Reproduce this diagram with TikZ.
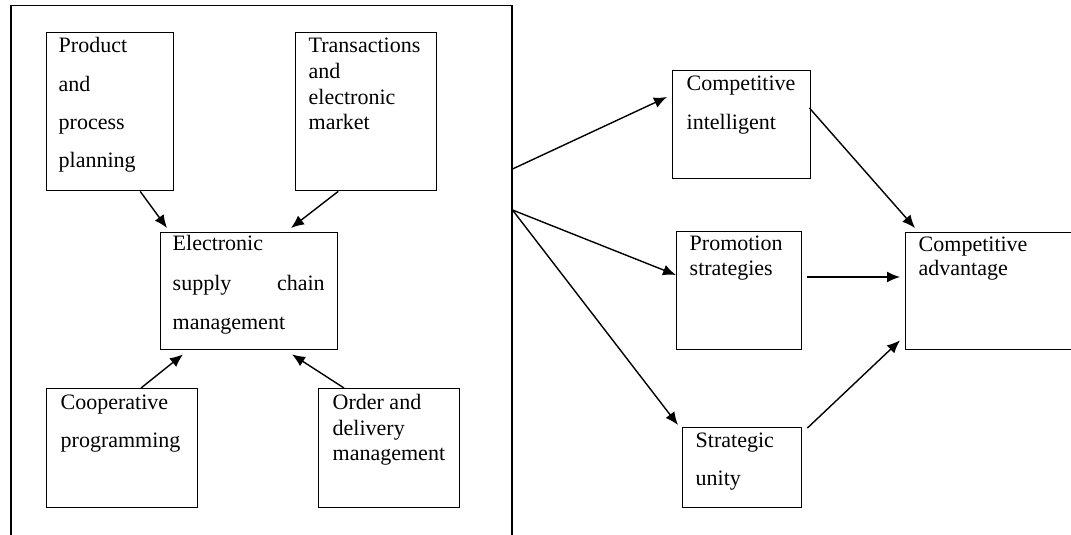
\documentclass[tikz,border=0pt]{standalone}
\usepackage{fontspec}
\setmainfont{Liberation Serif}
\usetikzlibrary{arrows.meta}
% #1 width, #2 height, #3 left pad, #4 first baseline, #5 line spacing, #6 text
\newcommand{\bxt}[6]{\parbox[c][#2][t]{#1}{\fontsize{22pt}{#5}\selectfont\leftskip=#3\relax\rightskip=0pt plus 1fil\relax\hyphenpenalty=10000\relax\vspace*{\dimexpr#4-16pt\relax}\rule{0pt}{16pt}#6}}
\tikzset{
  box/.style={draw, line width=1.4pt, inner sep=0pt, anchor=north west},
  arr/.style={-{Latex[length=13pt,width=11pt]}, line width=1.4pt}
}
\begin{document}
\begin{tikzpicture}[x=1pt, y=-1pt]
\useasboundingbox (0,0) rectangle (1071,535);
\node[draw, line width=1.5pt, inner sep=0pt, anchor=north west, minimum width=501pt, minimum height=545pt] (outer) at (10,5) {};
% left group
\node[box] (pp) at (46,32) {\bxt{127pt}{158pt}{12pt}{20pt}{38.3pt}{Product\\and\\process\\planning}};
\node[box] (tr) at (295,32) {\bxt{141pt}{158pt}{13pt}{20pt}{25.7pt}{Transactions\\and\\electronic\\market}};
\node[box] (ecsm) at (160,232) {\bxt{177pt}{117pt}{12pt}{18pt}{39.5pt}{Electronic\\\makebox[152pt][s]{supply\hfill chain}\\management}};
\node[box] (coop) at (46,388) {\bxt{151pt}{119pt}{14pt}{21pt}{38pt}{Cooperative\\programming}};
\node[box] (ord) at (318,388) {\bxt{141pt}{119pt}{14pt}{21pt}{25.5pt}{Order and\\delivery\\management}};
% right group
\node[box] (ci) at (672,70) {\bxt{138pt}{108pt}{14pt}{20pt}{39pt}{Competitive\\intelligent}};
\node[box] (ps) at (676,231) {\bxt{125pt}{118pt}{13pt}{19pt}{25pt}{Promotion\\strategies}};
\node[box] (su) at (682,427) {\bxt{119pt}{80pt}{13pt}{20pt}{38pt}{Strategic\\unity}};
\node[box] (ca) at (905,232) {\bxt{180pt}{117pt}{13pt}{19pt}{24pt}{Competitive\\advantage}};
% arrows inside
\draw[arr] ([xshift=30pt]pp.south) -- ([xshift=7pt,yshift=4pt]ecsm.north west);
\draw[arr] ([xshift=-28pt]tr.south) -- ([xshift=131pt,yshift=4pt]ecsm.north west);
\draw[arr] ([xshift=95pt]coop.north west) -- ([xshift=23pt,yshift=-4pt]ecsm.south west);
\draw[arr] ([xshift=26pt]ord.north west) -- ([xshift=132pt,yshift=-4pt]ecsm.south west);
% arrows right
\draw[arr] ([yshift=-164pt]outer.north east) -- ([xshift=-5pt,yshift=-27pt]ci.north west);
\draw[arr] ([yshift=-205pt]outer.north east) -- ([yshift=-44pt]ps.north west);
\draw[arr] ([yshift=-205pt]outer.north east) -- ([xshift=-4pt,yshift=2pt]su.north west);
\draw[arr] ([xshift=-2pt,yshift=-38pt]ci.north east) -- ([xshift=10pt,yshift=4pt]ca.north west);
\draw[arr] ([xshift=5pt,yshift=-46pt]ps.north east) -- ([xshift=-5pt,yshift=-45pt]ca.north west);
\draw[arr] ([xshift=5pt,yshift=-1pt]su.north east) -- ([xshift=-5pt,yshift=10pt]ca.south west);
\end{tikzpicture}
\end{document}
